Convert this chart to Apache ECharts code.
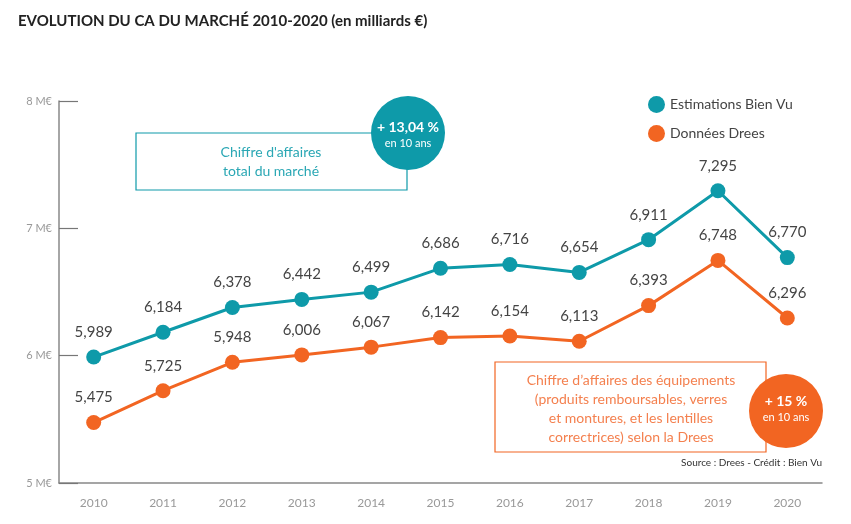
<!DOCTYPE html>
<html><head><meta charset="utf-8">
<script src="https://cdn.jsdelivr.net/npm/echarts@6/dist/echarts.min.js"></script>
<style>html,body{margin:0;padding:0;background:#fff}#c{width:851px;height:524px}</style>
</head><body><div id="c"></div>
<script>
const years = ['2010','2011','2012','2013','2014','2015','2016','2017','2018','2019','2020'];
const bienVu = [5.989, 6.184, 6.378, 6.442, 6.499, 6.686, 6.716, 6.654, 6.911, 7.295, 6.770];
const drees = [5.475, 5.725, 5.948, 6.006, 6.067, 6.142, 6.154, 6.113, 6.393, 6.748, 6.296];
const seriesNames = ['Estimations Bien Vu', 'Données Drees'];
const TEAL = '#0e9aa9', ORANGE = '#f26522';
const FONT = 'Lato';
const fmt = v => v.toFixed(3).replace('.', ',');

const chart = echarts.init(document.getElementById('c'));
chart.setOption({
  animation: false,
  textStyle: {fontFamily: FONT},
  title: {
    text: 'EVOLUTION DU CA DU MARCHÉ 2010-2020 (en milliards €)',
    left: 13, top: 9,
    textStyle: {fontFamily: FONT, fontSize: 15, fontWeight: 'bold', color: '#222'}
  },
  legend: {
    orient: 'vertical', left: 643, top: 91, itemGap: 12,
    icon: 'circle', itemWidth: 17, itemHeight: 17,
    textStyle: {fontFamily: FONT, fontSize: 14, color: '#444', padding: [0,0,0,0]},
    data: seriesNames
  },
  grid: {left: 59, right: 29, top: 101, bottom: 41},
  xAxis: {
    type: 'category', data: years, boundaryGap: true,
    axisLine: {lineStyle: {color: '#888', width: 1.5}},
    axisTick: {inside: true, length: 9, lineStyle: {color: '#777', width: 1.2}},
    axisLabel: {color: '#999', fontSize: 12, margin: 14, fontFamily: FONT}
  },
  yAxis: {
    type: 'value', min: 5, max: 8, interval: 1,
    splitLine: {show: false},
    axisLine: {show: true, lineStyle: {color: '#888', width: 1.5}},
    axisTick: {show: true, inside: true, length: 19, lineStyle: {color: '#777', width: 1.2}},
    axisLabel: {formatter: '{value} M€', color: '#999', fontSize: 11, margin: 7, fontFamily: FONT}
  },
  series: [
    {
      name: seriesNames[0], type: 'line', data: bienVu,
      symbol: 'circle', symbolSize: 15,
      lineStyle: {color: TEAL, width: 3}, itemStyle: {color: TEAL},
      label: {show: true, position: 'top', distance: 10, formatter: p => fmt(p.value),
        fontSize: 15, color: '#444', fontFamily: FONT}
    },
    {
      name: seriesNames[1], type: 'line', data: drees,
      symbol: 'circle', symbolSize: 15,
      lineStyle: {color: ORANGE, width: 3}, itemStyle: {color: ORANGE},
      label: {show: true, position: 'top', distance: 10, formatter: p => fmt(p.value),
        fontSize: 15, color: '#444', fontFamily: FONT}
    }
  ],
  graphic: [
    {type: 'rect', shape: {x: 136, y: 133, width: 271, height: 57},
      style: {fill: '#fff', stroke: TEAL, lineWidth: 1.2}},
    {type: 'text', x: 271, y: 162,
      style: {text: "Chiffre d'affaires\ntotal du marché", fill: '#2aa7b4', font: '14px ' + FONT,
        textAlign: 'center', textVerticalAlign: 'middle', lineHeight: 19}},
    {type: 'circle', shape: {cx: 408, cy: 133, r: 37}, style: {fill: TEAL}},
    {type: 'text', x: 408, y: 127,
      style: {text: '+ 13,04 %', fill: '#fff', font: 'bold 14px ' + FONT, textAlign: 'center', textVerticalAlign: 'middle'}},
    {type: 'text', x: 408, y: 143,
      style: {text: 'en 10 ans', fill: '#fff', font: '11px ' + FONT, textAlign: 'center', textVerticalAlign: 'middle'}},

    {type: 'rect', shape: {x: 495, y: 362, width: 271, height: 90},
      style: {fill: '#fff', stroke: ORANGE, lineWidth: 1.2}},
    {type: 'text', x: 631, y: 409,
      style: {text: "Chiffre d’affaires des équipements\n(produits remboursables, verres\net montures, et les lentilles\ncorrectrices) selon la Drees",
        fill: '#f4804f', font: '14px ' + FONT, textAlign: 'center', textVerticalAlign: 'middle', lineHeight: 19}},
    {type: 'circle', shape: {cx: 786, cy: 411, r: 37}, style: {fill: ORANGE}},
    {type: 'text', x: 786, y: 401,
      style: {text: '+ 15 %', fill: '#fff', font: 'bold 14px ' + FONT, textAlign: 'center', textVerticalAlign: 'middle'}},
    {type: 'text', x: 786, y: 417,
      style: {text: 'en 10 ans', fill: '#fff', font: '11px ' + FONT, textAlign: 'center', textVerticalAlign: 'middle'}},

    {type: 'text', x: 822, y: 463,
      style: {text: 'Source : Drees - Crédit : Bien Vu', fill: '#333', font: '10px ' + FONT, textAlign: 'right', textVerticalAlign: 'middle'}}
  ]
});
</script>
</body></html>
